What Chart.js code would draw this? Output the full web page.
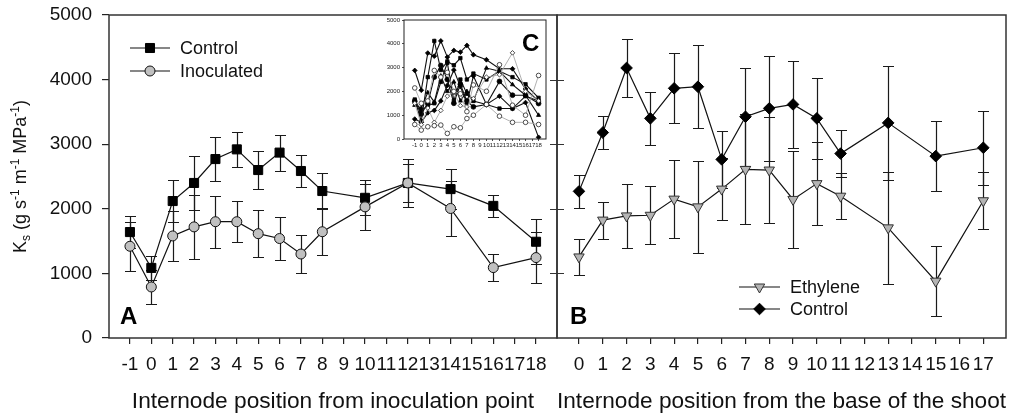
<!DOCTYPE html>
<html><head><meta charset="utf-8">
<script src="https://cdn.jsdelivr.net/npm/chart.js@4/dist/chart.umd.min.js"></script>
<style>
html,body{margin:0;padding:0;background:#fff;}
#wrap{position:relative;width:1013px;height:418px;overflow:hidden;background:#fff;}
canvas{position:absolute;}
</style></head><body>
<div id="wrap">
<canvas id="cL" width="1013" height="418" style="left:0;top:0;width:1013px;height:418px"></canvas>
<canvas id="cR" width="1013" height="418" style="left:0;top:0;width:1013px;height:418px"></canvas>
<canvas id="cC" width="190" height="141" style="left:370px;top:10px;width:190px;height:141px"></canvas>
</div>
<script>
// ---------- DATA ----------
const leftTickValues = [-1,0,1,2,3,4,5,6,7,8,9,10,11,12,13,14,15,16,17,18];
const leftTickLabels = ['-1','0','1','2','3','4','5','6','7','8','9','10','11','12','13','14','15','16','17','18'];
const leftX = [-1,0,1,2,3,4,5,6,7,8,10,12,14,16,18];
const leftControl    = [1640,1085,2120,2400,2770,2920,2600,2870,2585,2275,2170,2400,2305,2045,1490];
const leftControlErr = [250,180,320,420,345,270,300,280,250,275,270,290,315,175,350];
const leftInoc       = [1420,790,1580,1720,1800,1800,1615,1540,1300,1645,2030,2400,2005,1090,1245];
const leftInocErr    = [380,260,390,500,400,315,360,330,300,360,360,370,420,215,390];

const rightTickValues = [0,1,2,3,4,5,6,7,8,9,10,11,12,13,14,15,16,17];
const rightTickLabels = ['0','1','2','3','4','5','6','7','8','9','10','11','12','13','14','15','16','17'];
const rightX = [0,1,2,3,4,5,6,7,8,9,10,11,13,15,17];
const rightControl    = [2270,3180,4180,3400,3865,3890,2765,3425,3555,3615,3400,2855,3330,2815,2945];
const rightControlErr = [250,250,450,405,540,640,440,760,815,680,630,360,880,545,570];
const rightEthylene    = [1255,1825,1890,1900,2150,2030,2305,2610,2600,2145,2390,2195,1705,880,2125];
const rightEthyleneErr = [275,285,495,450,600,710,480,850,820,750,640,360,870,545,440];

const yTickValues = [0,1000,2000,3000,4000,5000];
const yTickLabels = ['0','1000','2000','3000','4000','5000'];
const dividerTickValues = [1000,2000,3000,4000];

const seriesNames = ['Control','Inoculated','Ethylene','Control'];
const leftXTitle = 'Internode position from inoculation point';
const rightXTitle = 'Internode position from the base of the shoot';
const panelLetters = ['A','B','C'];

// inset C
const insetX = [-1,0,1,2,3,4,5,6,7,8,10,12,14,16,18];
const insetS1 = [2880,2050,3610,3480,4120,3440,3720,3650,3930,3540,3330,2950,2950,2100,1590];
const insetS2 = [1660,750,2600,4120,2900,3260,3100,3400,2500,2750,2500,2850,2600,2300,1730];
const insetS3 = [1590,1050,1500,2600,3090,2500,1500,2300,1600,1350,1450,2420,1840,1840,1490];
const insetS4 = [1420,1300,1950,1550,2650,2000,2400,1600,2000,1600,2980,2850,2285,1840,1000];
const insetS5 = [835,700,1100,1200,1600,2250,2900,2200,1500,2650,1450,1800,1280,1530,70];
const insetS6 = [1600,1200,1400,1500,2400,3200,1600,2500,1900,1600,1450,1280,1280,1800,1600];
const insetG1 = [2145,1500,1600,2880,2600,2800,2000,1900,1150,2270,2005,3120,1420,1000,2670];
const insetG2 = [610,375,515,560,585,235,515,470,860,1000,1450,960,700,700,610];
const insetG3 = [1500,600,1300,700,1200,1800,1950,1400,1350,1700,2600,2700,3620,2000,1600];
const insetTickValues = leftTickValues;
const insetTickLabels = leftTickLabels;

// ---------- HELPERS ----------
const FONT = "'Liberation Sans', Arial, Helvetica, sans-serif";
Chart.defaults.font.family = FONT;
Chart.defaults.color = '#111';
const pts = (xs, ys) => xs.map((x, i) => ({x: x, y: ys[i]}));
const noPad = s => { s.paddingTop = 0; s.paddingBottom = 0; s.paddingLeft = 0; s.paddingRight = 0; };

const errorBars = {
  id: 'errorBars',
  beforeDatasetsDraw(chart) {
    const {ctx} = chart;
    const x = chart.scales.x, y = chart.scales.y;
    ctx.save();
    ctx.strokeStyle = '#1a1a1a';
    ctx.lineWidth = 1.2;
    chart.data.datasets.forEach(ds => {
      if (!ds.errors) return;
      ds.data.forEach((p, i) => {
        const e = ds.errors[i];
        const px = Math.round(x.getPixelForValue(p.x)) + 0.5;
        const yt = Math.round(y.getPixelForValue(p.y + e)) + 0.5;
        const yb = Math.round(y.getPixelForValue(p.y - e)) + 0.5;
        ctx.beginPath();
        ctx.moveTo(px, yt); ctx.lineTo(px, yb);
        ctx.moveTo(px - 5.5, yt); ctx.lineTo(px + 5.5, yt);
        ctx.moveTo(px - 5.5, yb); ctx.lineTo(px + 5.5, yb);
        ctx.stroke();
      });
    });
    ctx.restore();
  }
};

const decor = {
  id: 'decor',
  beforeDraw(chart, args, opts) {
    if (opts.bg) {
      const ca = chart.chartArea, ctx = chart.ctx;
      ctx.save(); ctx.fillStyle = '#fff';
      ctx.fillRect(ca.left, ca.top, ca.right - ca.left, ca.bottom - ca.top);
      ctx.restore();
    }
  },
  afterDraw(chart, args, opts) {
    const ctx = chart.ctx, ca = chart.chartArea;
    ctx.save();
    ctx.strokeStyle = opts.frameColor || '#333';
    ctx.lineWidth = opts.frameWidth || 1.5;
    ctx.strokeRect(ca.left, ca.top, ca.right - ca.left, ca.bottom - ca.top);
    if (opts.dividerTicks) {
      const y = chart.scales.y;
      ctx.lineWidth = 1.2;
      ctx.beginPath();
      opts.dividerTicks.forEach(v => {
        const py = Math.round(y.getPixelForValue(v)) + 0.5;
        ctx.moveTo(ca.right - 7, py); ctx.lineTo(ca.right + 7, py);
      });
      ctx.stroke();
    }
    if (opts.letter) {
      ctx.fillStyle = '#000';
      ctx.font = 'bold ' + opts.letter.size + 'px ' + FONT;
      ctx.textAlign = 'left'; ctx.textBaseline = 'alphabetic';
      ctx.fillText(opts.letter.text, opts.letter.x, opts.letter.y);
    }
    if (opts.legend) {
      const L = opts.legend;
      L.order.forEach((di, k) => {
        const ds = chart.data.datasets[di];
        const yy = L.ys[k];
        ctx.strokeStyle = ds.borderColor; ctx.lineWidth = 1.2;
        ctx.beginPath(); ctx.moveTo(L.x0, yy); ctx.lineTo(L.x1, yy); ctx.stroke();
        ctx.fillStyle = ds.pointBackgroundColor; ctx.strokeStyle = ds.pointBorderColor; ctx.lineWidth = 1;
        Chart.helpers.drawPoint(ctx, {pointStyle: ds.pointStyle, radius: ds.pointRadius, rotation: ds.pointRotation || 0, borderWidth: 1}, (L.x0 + L.x1) / 2, yy);
        ctx.fillStyle = '#111'; ctx.font = '18px ' + FONT; ctx.textAlign = 'left'; ctx.textBaseline = 'middle';
        ctx.fillText(ds.label, L.xt, yy + 1);
      });
    }
    if (opts.yTitle) {
      const parts = [['K',0],['s',1],[' (g s',0],['-1',2],[' m',0],['-1',2],[' MPa',0],['-1',2],[')',0]];
      const big = '18px ' + FONT, small = '12px ' + FONT;
      let total = 0;
      parts.forEach(p => { ctx.font = p[1] ? small : big; total += ctx.measureText(p[0]).width; });
      ctx.translate(opts.yTitle.x, opts.yTitle.y);
      ctx.rotate(-Math.PI / 2);
      ctx.fillStyle = '#111'; ctx.textAlign = 'left'; ctx.textBaseline = 'alphabetic';
      let cx = -total / 2;
      parts.forEach(p => {
        ctx.font = p[1] ? small : big;
        const dy = p[1] === 1 ? 4 : (p[1] === 2 ? -7 : 0);
        ctx.fillText(p[0], cx, dy);
        cx += ctx.measureText(p[0]).width;
      });
    }
    ctx.restore();
  }
};

function xAxis(min, max, vals, labels, title, size, tl, pad, h) {
  return {
    type: 'linear', min: min, max: max,
    afterBuildTicks: s => { s.ticks = vals.map(v => ({value: v})); },
    ticks: { autoSkip: false, maxRotation: 0, minRotation: 0, font: {size: size}, color: '#111', padding: pad,
             callback: (v, i) => labels[i] },
    grid: { drawOnChartArea: false, drawTicks: true, tickLength: tl, color: '#222', lineWidth: 1.2 },
    border: { display: false },
    title: title ? { display: true, text: title, font: {size: 22.7}, color: '#111', padding: {top: 0, bottom: 3} } : {display: false},
    afterFit: s => { s.height = h; noPad(s); }
  };
}

// ---------- LEFT PANEL ----------
new Chart(document.getElementById('cL'), {
  type: 'line',
  data: { datasets: [
    { label: seriesNames[1], data: pts(leftX, leftInoc), errors: leftInocErr,
      borderColor: '#111', borderWidth: 1.2, pointStyle: 'circle', pointRadius: 5,
      pointBackgroundColor: '#c0c0c0', pointBorderColor: '#111', pointBorderWidth: 1 },
    { label: seriesNames[0], data: pts(leftX, leftControl), errors: leftControlErr,
      borderColor: '#111', borderWidth: 1.2, pointStyle: 'rect', pointRadius: 6.4,
      pointBackgroundColor: '#000', pointBorderColor: '#000', pointBorderWidth: 1 }
  ]},
  options: {
    responsive: false, animation: false, devicePixelRatio: 1,
    layout: { padding: {top: 15, right: 456, left: 0, bottom: 0} },
    plugins: { legend: {display: false}, tooltip: {enabled: false},
      decor: { dividerTicks: dividerTickValues, letter: {text: panelLetters[0], x: 120, y: 324, size: 24},
               legend: {x0: 130, x1: 170, xt: 180, ys: [48, 71], order: [1, 0]},
               yTitle: {x: 26, y: 176.5} } },
    scales: {
      x: xAxis(-1.98, 18.98, leftTickValues, leftTickLabels, leftXTitle, 19, 6, 9, 80),
      y: { min: 0, max: 5000,
           afterBuildTicks: s => { s.ticks = yTickValues.map(v => ({value: v})); },
           ticks: { font: {size: 19}, color: '#111', padding: 10, callback: (v, i) => yTickLabels[i] },
           grid: { drawOnChartArea: false, drawTicks: true, tickLength: 7, color: '#222', lineWidth: 1.2 },
           border: { display: false },
           afterFit: s => { s.width = 109; noPad(s); } }
    }
  },
  plugins: [errorBars, decor]
});

// ---------- RIGHT PANEL ----------
new Chart(document.getElementById('cR'), {
  type: 'line',
  data: { datasets: [
    { label: seriesNames[3], data: pts(rightX, rightControl), errors: rightControlErr,
      borderColor: '#111', borderWidth: 1.2, pointStyle: 'rectRot', pointRadius: 5.8,
      pointBackgroundColor: '#000', pointBorderColor: '#000', pointBorderWidth: 1 },
    { label: seriesNames[2], data: pts(rightX, rightEthylene), errors: rightEthyleneErr,
      borderColor: '#111', borderWidth: 1.2, pointStyle: 'triangle', pointRotation: 180, pointRadius: 6,
      pointBackgroundColor: '#b4b4b4', pointBorderColor: '#333', pointBorderWidth: 1 }
  ]},
  options: {
    responsive: false, animation: false, devicePixelRatio: 1,
    layout: { padding: {top: 15, right: 1, left: 557, bottom: 0} },
    plugins: { legend: {display: false}, tooltip: {enabled: false},
      decor: { letter: {text: panelLetters[1], x: 570, y: 324, size: 24},
               legend: {x0: 739, x1: 780, xt: 790, ys: [287, 309], order: [1, 0]} } },
    scales: {
      x: xAxis(-0.925, 17.954, rightTickValues, rightTickLabels, rightXTitle, 19, 6, 9, 80),
      y: { display: false, min: 0, max: 5000 }
    }
  },
  plugins: [errorBars, decor]
});

// ---------- INSET C ----------
function blackSeries(arr, style) {
  return { data: pts(insetX, arr), borderColor: '#111', borderWidth: 1.1, pointStyle: style, pointRadius: 2.4,
           pointBackgroundColor: '#000', pointBorderColor: '#000', pointBorderWidth: 0.8 };
}
function graySeries(arr, style) {
  return { data: pts(insetX, arr), borderColor: '#a8a8a8', borderWidth: 0.9, pointStyle: style, pointRadius: 2.3,
           pointBackgroundColor: '#fff', pointBorderColor: '#222', pointBorderWidth: 0.8 };
}
new Chart(document.getElementById('cC'), {
  type: 'line',
  data: { datasets: [
    graySeries(insetG1, 'circle'), graySeries(insetG2, 'circle'), graySeries(insetG3, 'rectRot'),
    blackSeries(insetS1, 'rectRot'), blackSeries(insetS2, 'rect'), blackSeries(insetS3, 'circle'),
    blackSeries(insetS4, 'triangle'), blackSeries(insetS5, 'rectRot'), blackSeries(insetS6, 'rect')
  ]},
  options: {
    responsive: false, animation: false, devicePixelRatio: 1,
    layout: { padding: {top: 10, right: 14, left: 0, bottom: 0} },
    plugins: { legend: {display: false}, tooltip: {enabled: false},
      decor: { bg: true, frameColor: '#222', frameWidth: 1, letter: {text: panelLetters[2], x: 152, y: 41, size: 24} } },
    scales: {
      x: { type: 'linear', min: -2.65, max: 19.14,
           afterBuildTicks: s => { s.ticks = insetTickValues.map(v => ({value: v})); },
           ticks: { autoSkip: false, maxRotation: 0, minRotation: 0, font: {size: 6}, color: '#222', padding: 1,
                    callback: (v, i) => insetTickLabels[i] },
           grid: { drawOnChartArea: false, tickLength: 2, color: '#222', lineWidth: 0.8 },
           border: { display: false },
           afterFit: s => { s.height = 12; noPad(s); } },
      y: { min: 0, max: 5000,
           afterBuildTicks: s => { s.ticks = yTickValues.map(v => ({value: v})); },
           ticks: { font: {size: 6}, color: '#222', padding: 2, callback: (v, i) => yTickLabels[i] },
           grid: { drawOnChartArea: false, tickLength: 2, color: '#222', lineWidth: 0.8 },
           border: { display: false },
           afterFit: s => { s.width = 34; noPad(s); } }
    }
  },
  plugins: [decor]
});
</script>
</body></html>
